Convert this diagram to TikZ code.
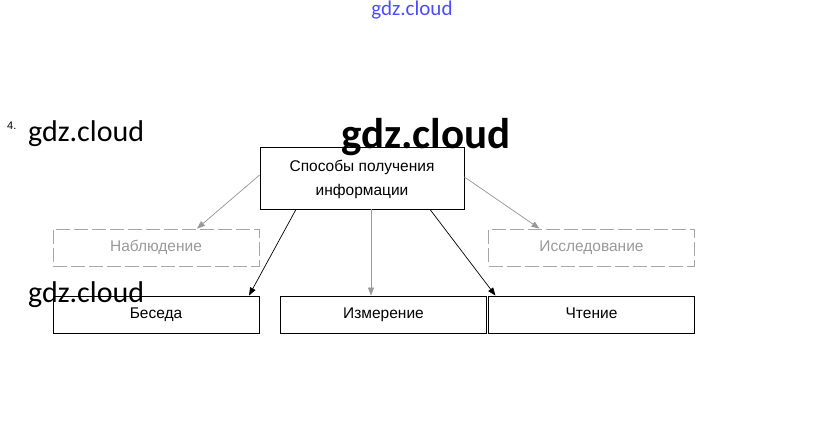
\documentclass[tikz,border=0pt]{standalone}
\usepackage{fontspec}
\setmainfont{Liberation Sans}
\newfontfamily\wmfont{Carlito}
\usetikzlibrary{arrows.meta}
\tikzset{
  box/.style={draw=black, line width=0.8pt, minimum width=206pt, minimum height=37pt, inner sep=0pt, text height=11pt, text depth=3pt, font=\fontsize{15.5pt}{17pt}\selectfont},
  dbox/.style={box, draw=gray!70, dash pattern=on 14pt off 4pt, text=gray!80},
  arr/.style={-{Triangle[length=8pt,width=6pt]}, line width=0.7pt},
  garr/.style={arr, draw=gray!80, fill=gray!80},
  wm/.style={font=\wmfont\fontsize{30pt}{32pt}\selectfont, inner sep=0pt, anchor=base west}
}
\begin{document}
\begin{tikzpicture}[x=1pt,y=-1pt]
\useasboundingbox (0,0) rectangle (823,439);
% watermarks
\node[font=\wmfont\fontsize{21pt}{22pt}\selectfont, text=blue!70, inner sep=0pt] (wtop) at (412,10) {gdz.cloud};
\node[font=\fontsize{11pt}{12pt}\selectfont, inner sep=0pt, anchor=base west] (num) at (7,129) {4.};
% top box
\node[draw=black, line width=0.8pt, minimum width=204pt, minimum height=62pt, inner sep=0pt] (top) at (362,178) {};
\node[font=\fontsize{15.5pt}{17pt}\selectfont, inner sep=0pt] (t1) at (362,167) {Способы получения};
\node[font=\fontsize{15.5pt}{17pt}\selectfont, inner sep=0pt] (t2) at (362,191) {информации};
\node[dbox] (nab) at (156,247.5) {Наблюдение};
\node[dbox] (iss) at (591.5,247.5) {Исследование};
\node[box] (bes) at (156,314.5) {Беседа};
\node[box] (izm) at (383.5,314.5) {Измерение};
\node[box] (cht) at (591.5,314.5) {Чтение};
% arrows
\draw[garr] (top.west |- 0,175) -- (nab.north -| 197,0);
\draw[arr] ([xshift=-66pt]top.south) -- ([xshift=93pt]bes.north);
\draw[garr, line width=0.6pt] ([xshift=9pt]top.south) -- (izm.north -| 371,0);
\draw[arr] ([xshift=68pt]top.south) -- ([xshift=-96pt]cht.north);
\draw[garr] (top.east |- 0,177) -- ([xshift=-52pt]iss.north);
% more watermarks
\node[wm] (w1) at (28,141) {gdz.cloud};
\node[wm] (w3) at (28,302) {gdz.cloud};
\node[wm, font=\wmfont\bfseries\fontsize{43pt}{45pt}\selectfont] (w2) at (341,148) {gdz.cloud};
\end{tikzpicture}
\end{document}
